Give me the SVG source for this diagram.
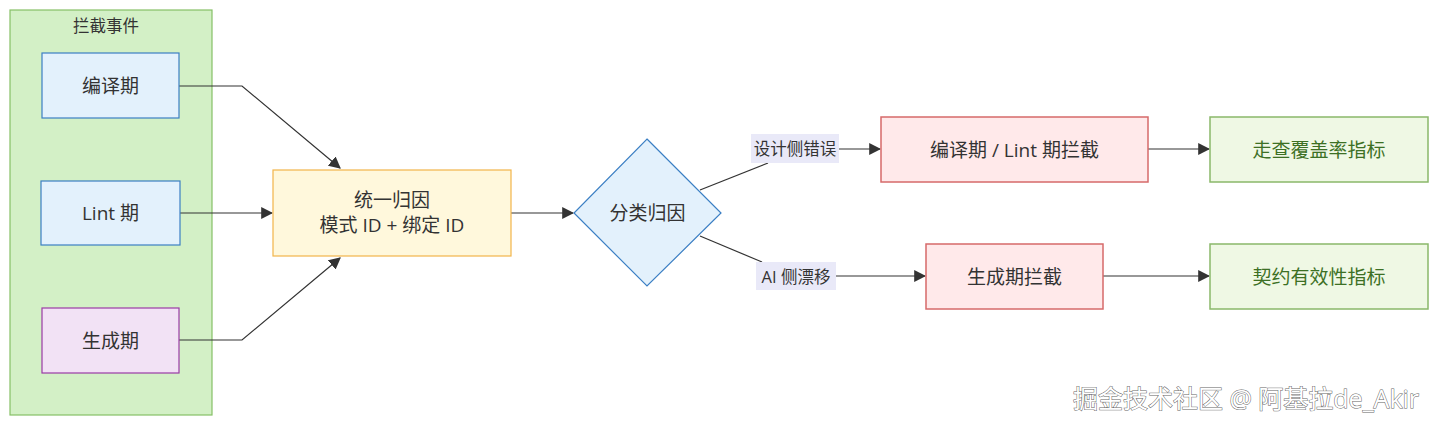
<svg xmlns="http://www.w3.org/2000/svg" width="1438" height="426" viewBox="0 0 1438 426">
<defs>
<marker id="arr" viewBox="0 0 10 10" refX="9" refY="5" markerWidth="12" markerHeight="12" markerUnits="userSpaceOnUse" orient="auto">
<path d="M0,0 L10,5 L0,10 z" fill="#333"/>
</marker>
<style>
text{font-family:"Open Sans","Noto Sans CJK SC",sans-serif;fill:#333;text-anchor:middle;dominant-baseline:central}
.n{font-size:19px}
.l{font-size:16.5px}
.blue{fill:#e3f1fc;stroke:#3b7fc4;stroke-width:1.2}
.purple{fill:#f2e2f5;stroke:#9a3ba6;stroke-width:1.2}
.yellow{fill:#fff8dc;stroke:#f2b54a;stroke-width:1.2}
.red{fill:#ffe9ea;stroke:#d66a6a;stroke-width:1.5}
.green{fill:#eff8e4;stroke:#8ab86a;stroke-width:1.5}
.gt{fill:#3d7024}
.e{fill:none;stroke:#333;stroke-width:1.2}
.lb{fill:#e9e9f8}
</style>
</defs>
<g id="cluster">
<rect x="10" y="10" width="202" height="405" fill="#d3f0c6" stroke="#86c066" stroke-width="1.2"/>
<text x="106" y="25" style="font-size:16.5px">拦截事件</text>
</g>
<g id="connectors">
<path class="e" d="M179,86 L242,86 L340,168" marker-end="url(#arr)"/>
<path class="e" d="M180,213 L272,213" marker-end="url(#arr)"/>
<path class="e" d="M179,340 L242,340 L340,258" marker-end="url(#arr)"/>
<path class="e" d="M511,213 L573,213" marker-end="url(#arr)"/>
<path class="e" d="M700,190 L768,163"/>
<path class="e" d="M838,149 L880,149" marker-end="url(#arr)"/>
<path class="e" d="M700,236 L762,262"/>
<path class="e" d="M836,276 L925,276" marker-end="url(#arr)"/>
<path class="e" d="M1148,149 L1209,149" marker-end="url(#arr)"/>
<path class="e" d="M1103,276 L1209,276" marker-end="url(#arr)"/>
<rect class="lb" x="751" y="134" width="88" height="29"/>
<text class="l" x="795" y="148.5">设计侧错误</text>
<rect class="lb" x="756" y="262" width="80" height="28"/>
<text class="l" x="796" y="276">AI 侧漂移</text>
</g>
<g id="n1"><rect class="blue" x="42" y="53" width="137" height="65"/><text class="n" x="110.5" y="85.5">编译期</text></g>
<g id="n2"><rect class="blue" x="41" y="181" width="139" height="64"/><text class="n" x="110.5" y="213">Lint 期</text></g>
<g id="n3"><rect class="purple" x="42" y="308" width="137" height="65"/><text class="n" x="110.5" y="340.5">生成期</text></g>
<g id="n4"><rect class="yellow" x="273" y="170" width="238" height="86"/><text class="n" x="392" y="200">统一归因</text><text class="n" x="392" y="225">模式 ID + 绑定 ID</text></g>
<g id="n5"><polygon class="blue" points="647,139 721,213 647,286 574,213"/><text class="n" x="647.5" y="213">分类归因</text></g>
<g id="n6"><rect class="red" x="881" y="117" width="267" height="65"/><text class="n" x="1014.5" y="149.5">编译期 / Lint 期拦截</text></g>
<g id="n7"><rect class="red" x="926" y="244" width="177" height="65"/><text class="n" x="1014.5" y="276.5">生成期拦截</text></g>
<g id="n8"><rect class="green" x="1210" y="117" width="218" height="65"/><text class="n gt" x="1319" y="149.5">走查覆盖率指标</text></g>
<g id="n9"><rect class="green" x="1210" y="244" width="218" height="65"/><text class="n gt" x="1319" y="276.5">契约有效性指标</text></g>
<text x="1246" y="398" style="font-size:25px;fill:#fff;stroke:#666;stroke-width:1;paint-order:stroke">掘金技术社区 @ 阿基拉de_Akir</text>
</svg>
